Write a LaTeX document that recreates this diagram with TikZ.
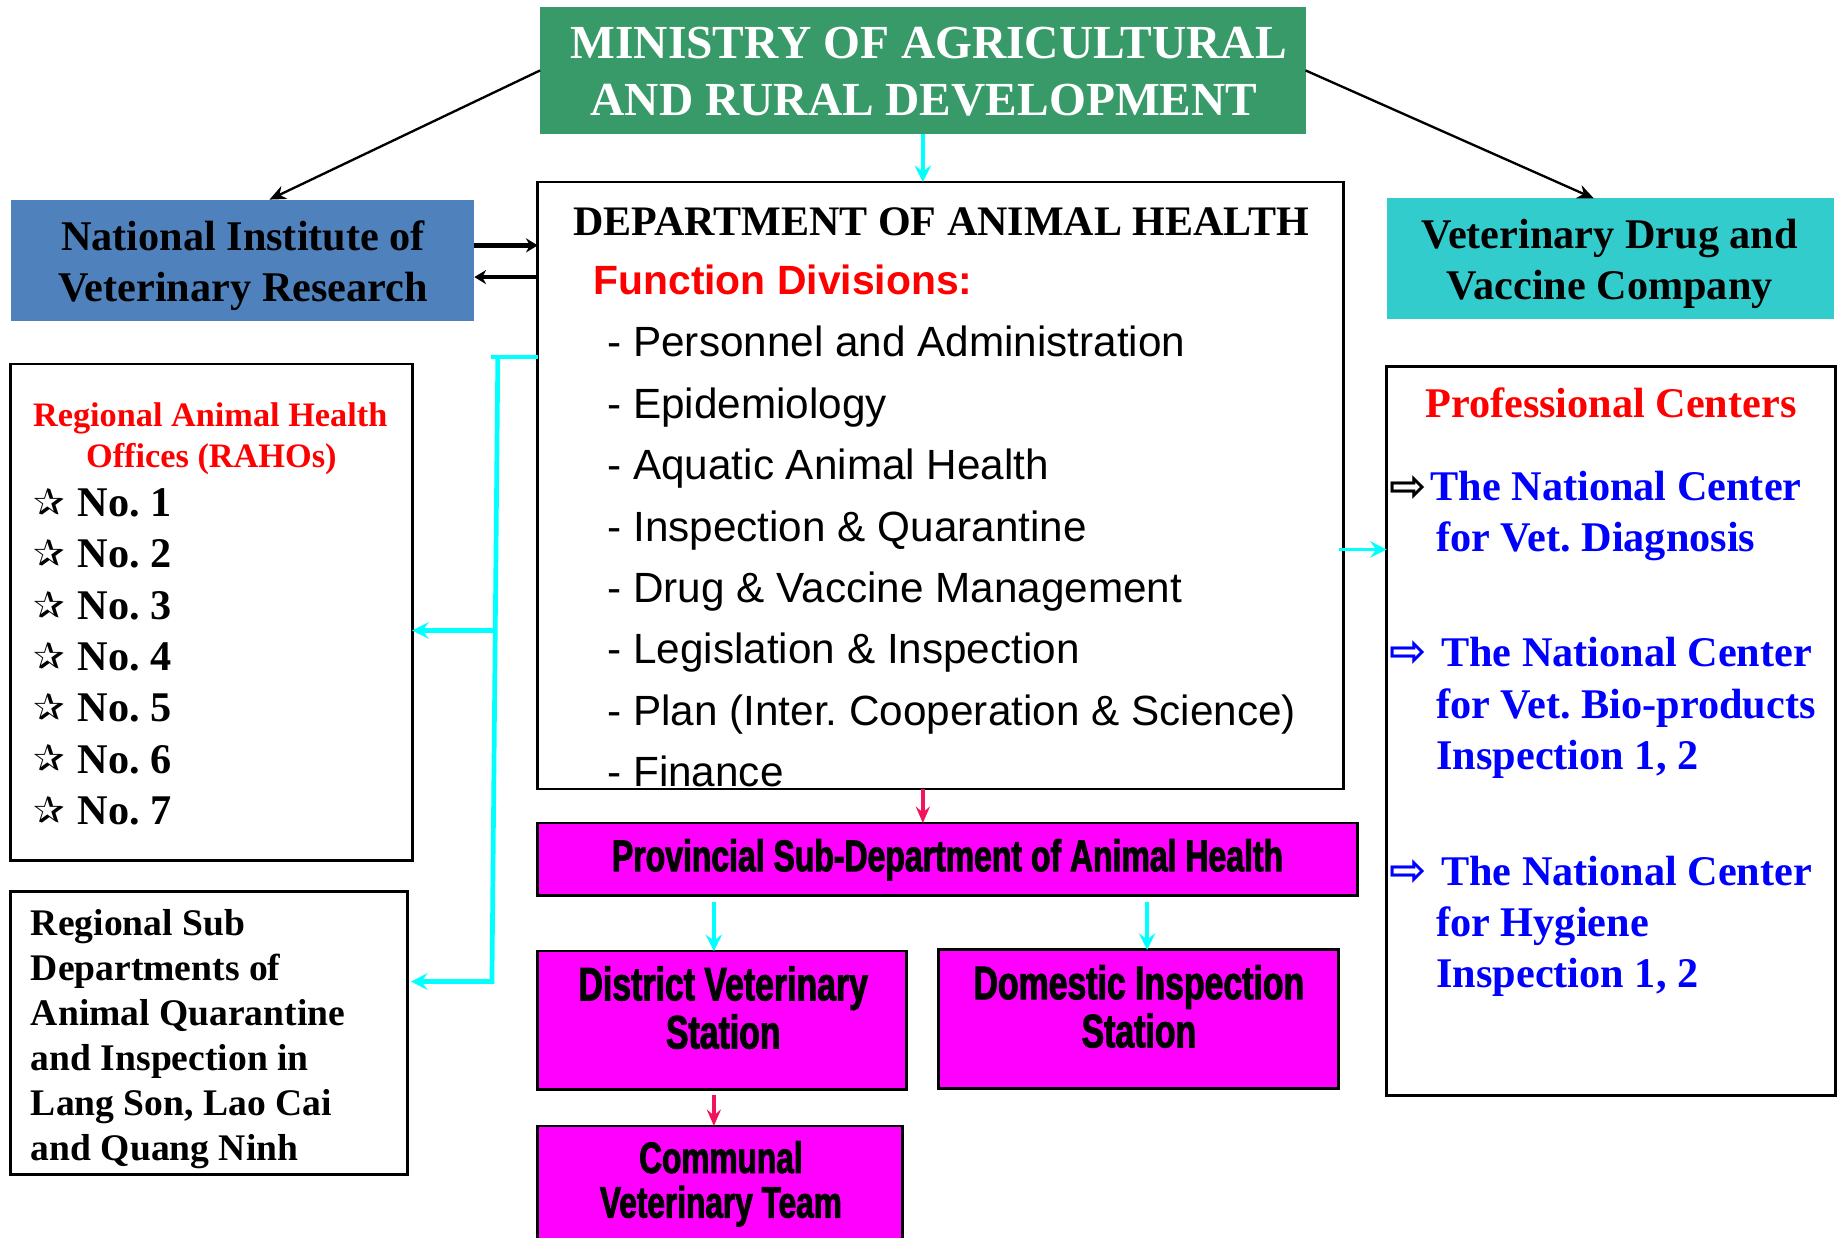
\documentclass[tikz,border=0pt]{standalone}
\usepackage{fontspec}
\setmainfont{Liberation Serif}
\newfontfamily\arialf{Liberation Sans}
\newfontfamily\narrowf[FakeStretch=0.72,FakeBold=2]{Liberation Sans}
\newfontfamily\symf{DejaVu Sans}
\usetikzlibrary{arrows.meta,calc}
\definecolor{mingreen}{RGB}{56,154,104}
\definecolor{nivrblue}{RGB}{79,129,189}
\definecolor{vdccyan}{RGB}{51,204,204}
\definecolor{lcyan}{RGB}{0,255,255}
\definecolor{lred}{RGB}{240,20,90}
\definecolor{mag}{RGB}{255,0,255}
\frenchspacing
\begin{document}
\begin{tikzpicture}[x=0.5pt,y=-0.5pt,
  box/.style={draw=black, line width=1.2pt, inner sep=0pt, outer sep=0pt},
  fillbox/.style={draw=none, inner sep=0pt, outer sep=0pt},
  tl/.style={anchor=base west, inner sep=0pt},
  tc/.style={anchor=base, inner sep=0pt},
  thinarrow/.style={draw=black, line width=1pt, -{Stealth[length=7pt,width=6pt]}},
  thickarrow/.style={draw=black, line width=2pt, -{Stealth[length=5pt,width=6pt]}},
  cyline/.style={draw=lcyan, line width=2pt},
  cyarrow/.style={draw=lcyan, line width=2pt, -{Stealth[length=7pt,width=7pt,inset=2.5pt]}},
  redarrow/.style={draw=lred, line width=1.5pt, -{Stealth[length=7pt,width=6pt,inset=2.5pt]}},
  mintxt/.style={tc, text=white, font=\fontsize{20.2}{24}\selectfont\bfseries},
  bigtxt/.style={tc, font=\fontsize{18}{22}\selectfont\bfseries},
  itemtxt/.style={tl, font=\arialf\fontsize{18}{22}\selectfont},
  narrowtxt/.style={tc, font=\narrowf\bfseries\fontsize{20}{24}\selectfont},
  bluetxt/.style={tl, text=blue, font=\fontsize{18}{22}\selectfont\bfseries},
  arrowsym/.style={tl, font=\symf\bfseries\fontsize{19}{22}\selectfont},
]
\useasboundingbox (0,0) rectangle (1568,1054);

% ---------- boxes ----------
\node[fillbox, fill=mingreen, minimum width=326pt, minimum height=54pt] (min) at (786,60) {};
\node[box, fill=white, minimum width=343pt, minimum height=258.5pt] (dept) at (801,413.5) {};
\node[fillbox, fill=nivrblue, minimum width=197.5pt, minimum height=51.5pt] (nivr) at (206.5,221.5) {};
\node[fillbox, fill=vdccyan, minimum width=190.5pt, minimum height=51.5pt] (vdc) at (1371.5,220.5) {};
\node[box, minimum width=171pt, minimum height=211.5pt] (raho) at (180,521.5) {};
\node[box, minimum width=169pt, minimum height=120.5pt] (rsub) at (178,879.5) {};
\node[box, minimum width=191pt, minimum height=310.5pt] (pc) at (1372,622.5) {};
\node[box, fill=mag, minimum width=349pt, minimum height=31pt] (prov) at (807,732) {};
\node[box, fill=mag, minimum width=157pt, minimum height=59pt] (dist) at (615,869) {};
\node[box, fill=mag, minimum width=170.5pt, minimum height=59pt] (dom) at (969.5,868) {};
\node[box, fill=mag, minimum width=155.5pt, minimum height=50.5pt] (comm) at (613.5,1009.5) {};

% ---------- connectors ----------
\draw[thinarrow] (min.west) -- ($(nivr.north)+(23,0)$);
\draw[thinarrow] (min.east) -- ($(vdc.north)+(-14,0)$);
\draw[cyarrow, line width=1.5pt] (min.south) -- (min.south |- dept.north);
\coordinate (na) at (0,209);
\coordinate (nb) at (0,236);
\draw[thickarrow] (nivr.east |- na) -- (dept.west |- na);
\draw[thickarrow] (dept.west |- nb) -- (nivr.east |- nb);
\coordinate (b1) at (424,304);
\coordinate (b2) at (419,836);
\coordinate (b3) at (421,537);
\draw[cyline] (dept.west |- b1) -- (418,304);
\draw[cyarrow] (b1) -- (b2) -- ($(rsub.east |- b2)+(3,0)$);
\draw[cyarrow] (b3) -- (raho.east |- b3);
\coordinate (pcy) at (0,468);
\draw[cyarrow, line width=1.5pt] ($(dept.east |- pcy)+(-4,0)$) -- (pc.west |- pcy);
\draw[redarrow] (min.south |- dept.south) -- (min.south |- prov.north);
\coordinate (d1) at (608,768);
\coordinate (d2) at (977,768);
\draw[cyarrow] (d1) -- (d1 |- dist.north);
\draw[cyarrow] (d2) -- (d2 |- dom.north);
\coordinate (d3) at (608,933);
\draw[redarrow] (d3) -- (d3 |- comm.north);

% ---------- texts ----------
\node[mintxt] (min1) at (791,50) {MINISTRY OF AGRICULTURAL};
\node[mintxt] (min2) at (787,98) {AND RURAL DEVELOPMENT};

\node[bigtxt] (nivr1) at (207,213) {National Institute of};
\node[bigtxt] (nivr2) at (207,257) {Veterinary Research};

\node[bigtxt] (vdc1) at (1371,212) {Veterinary Drug and};
\node[bigtxt] (vdc2) at (1371,255) {Vaccine Company};

\node[tl, font=\fontsize{17.9}{20}\selectfont\bfseries] (dtitle) at (488,201) {DEPARTMENT OF ANIMAL HEALTH};
\node[tl, text=red, font=\arialf\bfseries\fontsize{17.4}{20}\selectfont] (fdiv) at (505,251) {Function Divisions:};
\foreach \t [count=\i] in {{- Personnel and Administration},{- Epidemiology},{- Aquatic Animal Health},{- Inspection \& Quarantine},{- Drug \& Vaccine Management},{- Legislation \& Inspection},{- Plan (Inter. Cooperation \& Science)},{- Finance}}
  \node[itemtxt] (it\i) at (517,{304+52.3*(\i-1)}) {\t};

\node[tc, text=red, font=\fontsize{14.6}{17}\selectfont\bfseries] (raho1) at (179,363) {Regional Animal Health};
\node[tc, text=red, font=\fontsize{14.6}{17}\selectfont\bfseries] (raho2) at (180,398) {Offices (RAHOs)};
\foreach \i in {1,...,7}{
  \node[tl, font=\symf\fontsize{16}{18}\selectfont] (st\i) at (28,{439+43.7*(\i-1)}) {✰};
  \node[tl, font=\fontsize{18}{22}\selectfont\bfseries] (no\i) at (66,{440+43.7*(\i-1)}) {No. \i};
}

\foreach \t [count=\i] in {{Regional Sub},{Departments of},{Animal Quarantine},{and Inspection in},{Lang Son, Lao Cai},{and Quang Ninh}}
  \node[tl, font=\fontsize{16}{19}\selectfont\bfseries] (rs\i) at (26,{797+38.2*(\i-1)}) {\t};

\node[tc, text=red, font=\fontsize{18}{22}\selectfont\bfseries] (pct) at (1372,356) {Professional Centers};
\node[arrowsym] (ar1) at (1183,427) {⇨};
\node[bluetxt] (c11) at (1218,426) {The National Center};
\node[bluetxt] (c12) at (1223,470) {for Vet. Diagnosis};
\node[arrowsym, text=blue] (ar2) at (1183,568) {⇨};
\node[bluetxt] (c21) at (1227,568) {The National Center};
\node[bluetxt] (c22) at (1223,612) {for Vet. Bio-products};
\node[bluetxt] (c23) at (1223,655) {Inspection 1, 2};
\node[arrowsym, text=blue] (ar3) at (1183,754) {⇨};
\node[bluetxt] (c31) at (1227,754) {The National Center};
\node[bluetxt] (c32) at (1223,798) {for Hygiene};
\node[bluetxt] (c33) at (1223,841) {Inspection 1, 2};

\node[narrowtxt, font=\narrowf\bfseries\fontsize{18.9}{22}\selectfont] (provt) at (807,742) {Provincial Sub-Department of Animal Health};
\node[narrowtxt] (dist1) at (616,852) {District Veterinary};
\node[narrowtxt] (dist2) at (616,893) {Station};
\node[narrowtxt] (dom1) at (970,851) {Domestic Inspection};
\node[narrowtxt] (dom2) at (970,892) {Station};
\node[narrowtxt, font=\narrowf\bfseries\fontsize{18.7}{22}\selectfont] (comm1) at (614,999) {Communal};
\node[narrowtxt, font=\narrowf\bfseries\fontsize{18.7}{22}\selectfont] (comm2) at (614,1037) {Veterinary Team};
\end{tikzpicture}
\end{document}
